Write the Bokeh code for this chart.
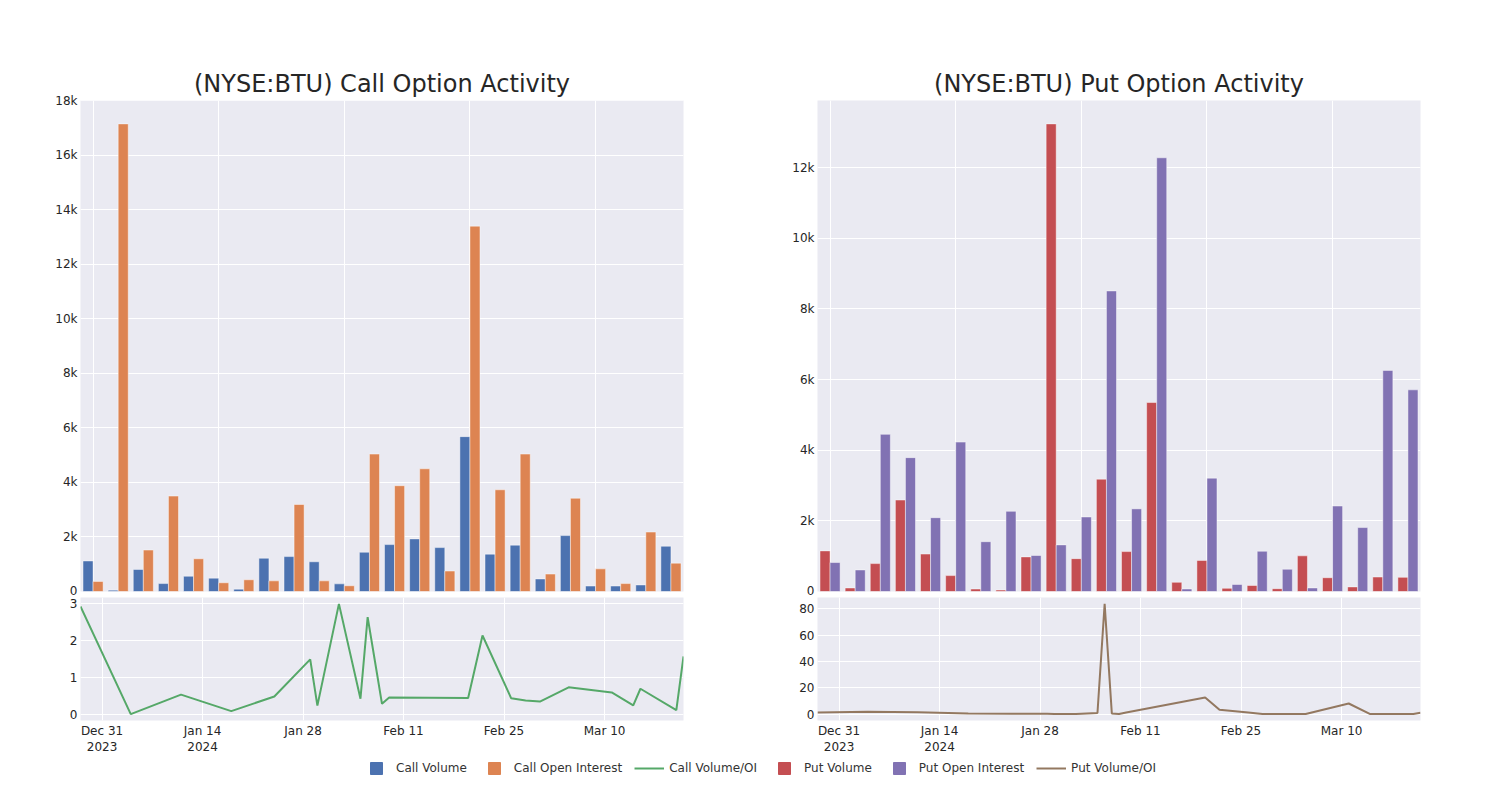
import pandas as pd
from bokeh.plotting import figure
from bokeh.layouts import column, row
from bokeh.models import (Range1d, SingleIntervalTicker, FixedTicker, NumeralTickFormatter,
                          Legend, LegendItem, ColumnDataSource)
from bokeh.transform import dodge
from bokeh.embed import file_html
from bokeh.resources import INLINE

# ---------------- data ----------------
dates = ["2023-12-28", "2024-01-04", "2024-01-11", "2024-01-18", "2024-01-24", "2024-01-29",
         "2024-01-30", "2024-02-02", "2024-02-05", "2024-02-06", "2024-02-07", "2024-02-08",
         "2024-02-09", "2024-02-20", "2024-02-22", "2024-02-26", "2024-02-28", "2024-03-01",
         "2024-03-05", "2024-03-11", "2024-03-14", "2024-03-15", "2024-03-20", "2024-03-21"]

call_volume = [1120, 50, 810, 290, 560, 490, 86, 1220, 1280, 1090, 280, 1440,
               1720, 1930, 1610, 5680, 1370, 1700, 460, 2050, 200, 200, 240, 1660]
call_oi = [370, 17150, 1520, 3500, 1200, 320, 430, 390, 3190, 390, 210, 5040,
           3880, 4500, 750, 13400, 3730, 5040, 640, 3420, 830, 290, 2180, 1040]
call_ratio = [2.93, 0.0, 0.53, 0.08, 0.48, 1.49, 0.23, 3.0, 0.42, 2.64, 1.46, 0.28,
              0.45, 0.44, 2.14, 0.43, 0.37, 0.34, 0.73, 0.59, 0.24, 0.69, 0.11, 1.57]

put_volume = [1150, 100, 790, 2590, 1060, 450, 70, 40, 980, 13240, 930, 3180,
              1130, 5350, 260, 880, 90, 170, 80, 1010, 390, 130, 410, 400]
put_oi = [820, 610, 4450, 3790, 2090, 4230, 1410, 2270, 1020, 1320, 2110, 8510,
          2340, 12280, 70, 3210, 200, 1140, 630, 100, 2420, 1810, 6260, 5710]
put_ratio = [1.3, 1.8, 1.5, 0.5, 0.3, 0.25, 0.2, 0.2, 0.9, 83.8, 0.6, 0.1,
             1.2, 12.7, 3.3, 1.2, 0.1, 0.05, 0.1, 8.1, 0.1, 0.1, 0.1, 1.0]

tick_dates = ["2023-12-31", "2024-01-14", "2024-01-28", "2024-02-11", "2024-02-25", "2024-03-10"]

# ---------------- style ----------------
BG = "#EAEAF2"
FONT = "DejaVu Sans"
TXT = "#262626"
C_BLUE, C_ORANGE, C_GREEN = "#4C72B0", "#DD8452", "#55A868"
C_RED, C_PURPLE, C_BROWN = "#C44E52", "#8172B3", "#937860"

FW = 603
LB = 80      # left border of each panel
RB_L = 54    # right border of the left panel
RB_R = 20    # right border of the right panel


def style(p):
    p.background_fill_color = BG
    p.border_fill_color = "white"
    p.outline_line_color = None
    p.grid.grid_line_color = "white"
    p.grid.grid_line_width = 1
    for ax in p.axis:
        ax.axis_line_color = None
        ax.major_tick_line_color = None
        ax.minor_tick_line_color = None
        ax.major_tick_out = 0
        ax.major_tick_in = 0
        ax.minor_tick_out = 0
        ax.major_label_text_font = FONT
        ax.major_label_text_font_size = "12px"
        ax.major_label_text_color = TXT
        ax.major_label_standoff = 3


def bar_fig(title, vol, oi, c1, c2, right_border):
    idx = list(range(len(dates)))
    src = ColumnDataSource(dict(idx=idx, vol=vol, oi=oi))
    ymax = max(max(vol), max(oi)) * 1.05
    p = figure(frame_width=FW, frame_height=491,
               x_range=Range1d(-0.5, len(dates) - 0.5), y_range=Range1d(0, ymax),
               output_backend="svg", toolbar_location=None, title=title,
               min_border_left=LB, min_border_right=right_border,
               min_border_top=100, min_border_bottom=6)
    p.vbar(x=dodge("idx", -0.2, range=p.x_range), top="vol", width=0.4, source=src,
           fill_color=c1, line_color="white", line_alpha=0.45, line_width=1)
    p.vbar(x=dodge("idx", 0.2, range=p.x_range), top="oi", width=0.4, source=src,
           fill_color=c2, line_color="white", line_alpha=0.45, line_width=1)
    p.xaxis.ticker = SingleIntervalTicker(interval=5)
    p.yaxis.ticker = SingleIntervalTicker(interval=2000)
    p.yaxis.formatter = NumeralTickFormatter(format="0a")
    style(p)
    p.xaxis.visible = False
    p.title.text_font = FONT
    p.title.text_font_size = "24px"
    p.title.text_font_style = "normal"
    p.title.text_color = TXT
    p.title.align = "center"
    p.title.standoff = 5
    return p


def line_fig(vals, color, right_border, interval):
    xs = pd.to_datetime(dates)
    lo, hi = min(vals), max(vals)
    pad = (hi - lo) * 0.058
    p = figure(x_axis_type="datetime", frame_width=FW, frame_height=123,
               x_range=Range1d(xs.min(), xs.max()), y_range=Range1d(lo - pad, hi + pad),
               output_backend="svg", toolbar_location=None,
               min_border_left=LB, min_border_right=right_border,
               min_border_top=0, min_border_bottom=30)
    p.line(x=xs, y=vals, line_color=color, line_width=2)
    tks = pd.to_datetime(tick_dates)
    ms = [int(t.value // 10**6) for t in tks]
    labels = {}
    prev_year = None
    for m, t in zip(ms, tks):
        lab = t.strftime("%b %d")
        if t.year != prev_year:
            lab += "\n" + str(t.year)
        prev_year = t.year
        labels[m] = lab
    p.xaxis.ticker = FixedTicker(ticks=ms)
    p.xaxis.major_label_overrides = labels
    p.yaxis.ticker = SingleIntervalTicker(interval=interval)
    style(p)
    return p


bar_c = bar_fig("(NYSE:BTU) Call Option Activity", call_volume, call_oi, C_BLUE, C_ORANGE, RB_L)
line_c = line_fig(call_ratio, C_GREEN, RB_L, 1)
bar_p = bar_fig("(NYSE:BTU) Put Option Activity", put_volume, put_oi, C_RED, C_PURPLE, RB_R)
line_p = line_fig(put_ratio, C_BROWN, RB_R, 20)

# ---------------- legend (shared, below both panels) ----------------
TOTAL_W = (LB + FW + RB_L) + (LB + FW + RB_R)
leg = figure(width=TOTAL_W, height=30, min_border=0,
             x_range=Range1d(-1, 0), y_range=Range1d(-1, 0),   # series drawn here stay out of view
             output_backend="svg", toolbar_location=None)
leg.axis.visible = False
leg.grid.visible = False
leg.outline_line_color = None
leg.background_fill_color = "white"
leg.border_fill_color = "white"

idx = list(range(len(dates)))
series = [("Call Volume", call_volume, C_BLUE, "bar"),
          ("Call Open Interest", call_oi, C_ORANGE, "bar"),
          ("Call Volume/OI", call_ratio, C_GREEN, "line"),
          ("Put Volume", put_volume, C_RED, "bar"),
          ("Put Open Interest", put_oi, C_PURPLE, "bar"),
          ("Put Volume/OI", put_ratio, C_BROWN, "line")]
items = []
for name, vals, col, kind in series:
    src = ColumnDataSource(dict(x=[i + 1 for i in idx], y=vals))
    if kind == "bar":
        r = leg.scatter(x="x", y="y", source=src, marker="square",
                        fill_color=col, line_color=col)
    else:
        r = leg.line(x="x", y="y", source=src, line_color=col, line_width=2)
    items.append(LegendItem(label=name, renderers=[r]))

legend = Legend(items=items, orientation="horizontal", location=(361, 4),
                glyph_width=30, glyph_height=30, label_standoff=5, spacing=12,
                padding=0, margin=0, border_line_color=None, background_fill_alpha=0,
                label_text_font=FONT, label_text_font_size="12px", label_text_color="#333333")
leg.add_layout(legend, "center")

layout = column(row(column(bar_c, line_c), column(bar_p, line_p)), leg)

open("out.html", "w").write(file_html(layout, INLINE))
